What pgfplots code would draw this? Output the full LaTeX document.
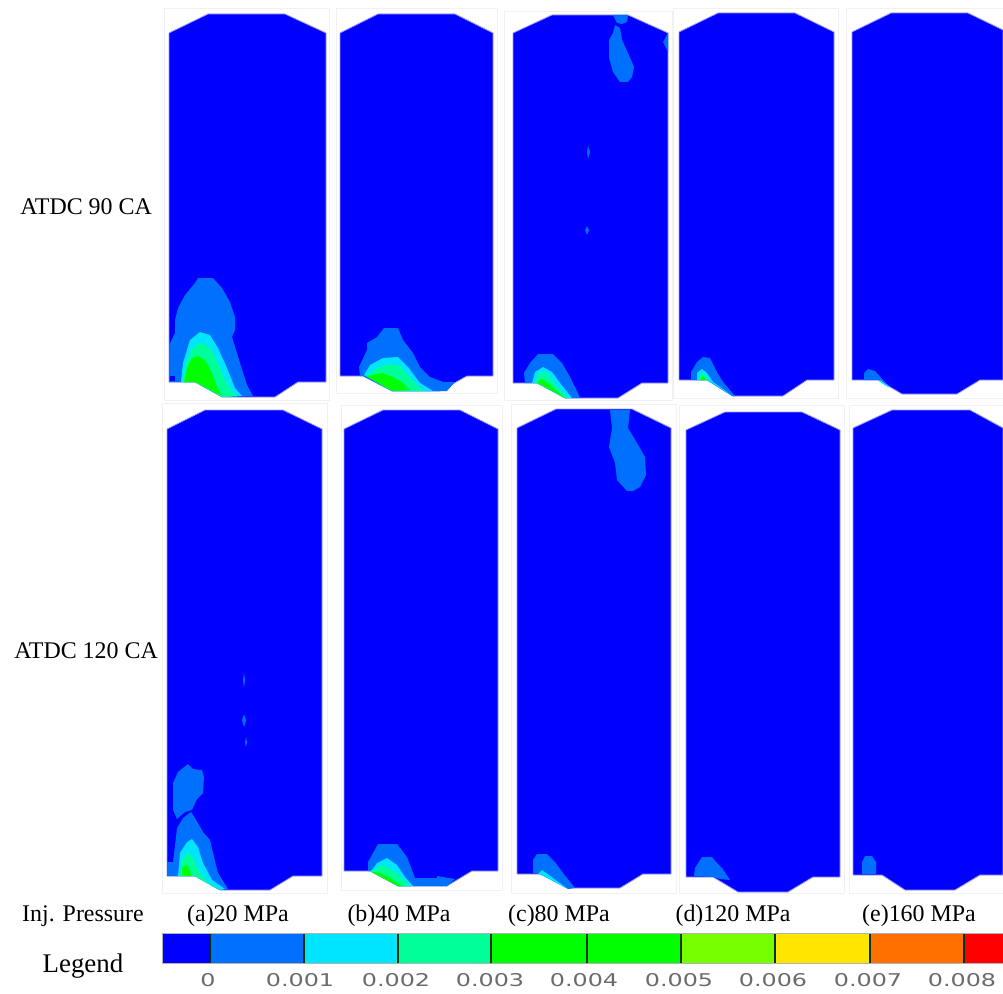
\documentclass[border=0pt]{standalone}
\usepackage{fontspec}
\setmainfont{Liberation Serif}
\newfontfamily\barfont{DejaVu Sans}
\usepackage{pgfplots}
\pgfplotsset{compat=1.18}
\definecolor{cA}{HTML}{0000FF}
\definecolor{cB}{HTML}{0070FF}
\definecolor{cC}{HTML}{00E5FF}
\definecolor{cD}{HTML}{00FF99}
\definecolor{cE}{HTML}{00FF00}
\definecolor{cF}{HTML}{77FF00}
\definecolor{cG}{HTML}{FFE500}
\definecolor{cH}{HTML}{FF7000}
\definecolor{cI}{HTML}{FF0000}
\definecolor{frame}{HTML}{F1F1F1}
\definecolor{rim}{HTML}{9A9AFF}
\tikzset{
 pan/.style={fill=cA,draw=rim,line width=0.8pt,line join=round},
 fr/.style={fill=white,draw=frame,line width=0.8pt},
 a/.style={fill=cA,draw=none},
 b/.style={fill=cB,draw=none},
 c/.style={fill=cC,draw=none},
 d/.style={fill=cD,draw=none},
 e/.style={fill=cE,draw=none},
 txt/.style={font=\fontsize{24}{28}\selectfont,inner sep=0pt,text=black},
 big/.style={font=\fontsize{27}{30}\selectfont,inner sep=0pt,text=black},
 tk/.style={font=\barfont\fontsize{18}{20}\selectfont,inner sep=0pt,text=black!58,xscale=1.33,yscale=0.98}
}
\begin{document}
\begin{tikzpicture}
\path[use as bounding box] (0,0) rectangle (1003bp,994bp);
\begin{axis}[scale only axis,width=1003bp,height=994bp,xmin=0,xmax=1003,ymin=0,ymax=994,y dir=reverse,axis lines=none,clip=true]
% frames
\addplot[fr] coordinates {(164,8)(329,8)(329,400)(164,400)(164,8)};
\addplot[fr] coordinates {(336,8)(497,8)(497,393)(336,393)(336,8)};
\addplot[fr] coordinates {(504,11)(672,11)(672,400)(504,400)(504,11)};
\addplot[fr] coordinates {(673,8)(838,8)(838,398)(673,398)(673,8)};
\addplot[fr] coordinates {(846,8)(1003,8)(1003,398)(846,398)(846,8)};
\addplot[fr] coordinates {(162,403)(327,403)(327,893)(162,893)(162,403)};
\addplot[fr] coordinates {(341,405)(502,405)(502,890)(341,890)(341,405)};
\addplot[fr] coordinates {(511,404)(676,404)(676,893)(511,893)(511,404)};
\addplot[fr] coordinates {(679,405)(844,405)(844,893)(679,893)(679,405)};
\addplot[fr] coordinates {(849,405)(1003,405)(1003,893)(849,893)(849,405)};
% panels row 1
\addplot[pan] coordinates {(169,33)(208,14)(285,14)(326,33)(326,382)(298,382)(275,397)(222,397)(195,382)(169,382)(169,33)};
\addplot[pan] coordinates {(340,33)(378,14)(455,14)(493,33)(493,376)(467,376)(440,391)(392,391)(363,376)(340,376)(340,33)};
\addplot[pan] coordinates {(513,33)(552,15)(628,15)(668,33)(668,383)(642,383)(618,398)(565,398)(537,383)(513,383)(513,33)};
\addplot[pan] coordinates {(679,32)(718,13)(795,13)(834,32)(834,380)(807,380)(783,396)(733,396)(707,380)(679,380)(679,32)};
\addplot[pan] coordinates {(852,32)(891,13)(968,13)(1003,30)(1003,380)(980,380)(957,394)(902,394)(878,380)(852,380)(852,32)};
% panels row 2
\addplot[pan] coordinates {(167,429)(205,410)(283,410)(322,429)(322,876)(293,876)(270,890)(220,890)(195,876)(167,876)(167,429)};
\addplot[pan] coordinates {(344,429)(383,410)(460,410)(498,429)(498,871)(472,871)(447,886)(398,886)(370,871)(344,871)(344,429)};
\addplot[pan] coordinates {(517,428)(556,409)(632,409)(671,428)(671,874)(643,874)(620,888)(570,888)(540,874)(517,874)(517,428)};
\addplot[pan] coordinates {(686,430)(725,412)(802,412)(840,430)(840,877)(813,877)(788,892)(738,892)(713,877)(686,877)(686,430)};
\addplot[pan] coordinates {(853,428)(892,410)(970,410)(1003,428)(1003,875)(980,875)(955,890)(905,890)(882,875)(853,875)(853,428)};
% a1
\addplot[b] coordinates {(169,382)(169,345)(175,333)(175,320)(178,308)(185,295)(195,283)(198,278)(213,278)(222,288)(230,302)(235,317)(235,330)(232,337)(236,350)(240,363)(247,385)(253,396)(222,397)(195,382)};
\addplot[a] coordinates {(170,376)(175,376)(175,381)(170,381)};
\addplot[c] coordinates {(181,382)(183,363)(190,340)(200,332)(210,335)(218,348)(227,368)(235,388)(242,396)(222,397)(195,382)};
\addplot[d] coordinates {(183,382)(187,362)(193,347)(202,343)(210,348)(218,363)(225,380)(232,392)(238,396)(222,397)(195,382)};
\addplot[e] coordinates {(184,382)(187,367)(192,358)(198,356)(205,360)(212,373)(217,387)(222,396)(195,382)};
% b1
\addplot[b] coordinates {(360,376)(359,367)(367,350)(367,343)(377,337)(384,328)(398,328)(403,340)(413,353)(420,367)(430,377)(443,382)(455,382)(447,391)(392,391)(363,376)};
\addplot[c] coordinates {(364,375)(370,365)(383,358)(398,357)(408,367)(420,383)(433,391)(392,391)(366,376)};
\addplot[d] coordinates {(368,375)(377,368)(390,364)(400,366)(410,378)(423,391)(392,391)(366,376)};
\addplot[e] coordinates {(372,375)(382,373)(393,377)(403,383)(410,390)(392,391)(366,376)};
% c1
\addplot[b] coordinates {(613,15)(628,15)(627,22)(622,24)(617,23)};
\addplot[b] coordinates {(615,25)(620,28)(622,40)(628,53)(634,67)(632,77)(628,82)(620,82)(613,72)(609,58)(609,40)(613,33)};
\addplot[b] coordinates {(668,33)(663,42)(668,52)};
\addplot[b] coordinates {(588,146)(590,152)(588,159)(587,152)};
\addplot[b] coordinates {(587,226)(589,230)(587,235)(585,230)};
\addplot[b] coordinates {(525,383)(524,373)(530,363)(538,354)(553,354)(562,363)(570,377)(578,393)(580,398)(565,398)(537,383)};
\addplot[c] coordinates {(532,383)(535,372)(543,367)(552,372)(560,383)(572,398)(565,398)(537,383)};
\addplot[d] coordinates {(535,382)(540,373)(545,372)(550,377)(557,387)(568,398)(565,398)(537,383)};
\addplot[e] coordinates {(537,382)(542,379)(550,385)(565,398)(540,384)};
% d1
\addplot[b] coordinates {(691,380)(691,372)(697,362)(703,357)(710,358)(717,372)(723,382)(735,396)(732,396)(707,380)};
\addplot[c] coordinates {(697,380)(697,373)(702,369)(707,373)(713,382)(733,396)(707,380)};
\addplot[d] coordinates {(698,380)(702,373)(705,375)(708,380)};
\addplot[e] coordinates {(700,380)(703,376)(706,380)};
% e1
\addplot[b] coordinates {(864,380)(864,373)(868,369)(875,371)(883,380)(890,387)(885,385)(878,380)};
\addplot[c] coordinates {(878,380)(880,380)(890,387)(888,387)};
% a2
\addplot[b] coordinates {(173,783)(178,772)(183,768)(188,764)(193,769)(202,770)(204,777)(203,793)(197,799)(192,810)(185,812)(177,819)(173,810)(173,797)};
\addplot[b] coordinates {(167,876)(167,862)(173,862)(176,837)(177,828)(183,818)(191,812)(195,818)(203,832)(210,840)(214,857)(218,873)(228,889)(220,890)(195,876)};
\addplot[c] coordinates {(178,876)(180,853)(187,842)(192,839)(198,847)(203,863)(212,880)(225,889)(220,890)(195,876)};
\addplot[d] coordinates {(180,876)(182,860)(188,853)(193,857)(198,870)(207,882)(217,889)(195,876)};
\addplot[e] coordinates {(182,875)(182,867)(187,865)(190,870)(191,876)};
\addplot[b] coordinates {(244,672)(245,680)(244,688)(243,680)};
\addplot[b] coordinates {(244,714)(246,720)(244,727)(242,720)};
\addplot[b] coordinates {(246,737)(247,742)(246,747)(245,742)};
% b2
\addplot[b] coordinates {(368,871)(368,862)(378,844)(397,844)(407,857)(415,878)(437,878)(437,876)(443,877)(455,879)(447,886)(398,886)(370,871)};
\addplot[c] coordinates {(372,870)(377,863)(387,858)(397,865)(405,877)(413,886)(398,886)(370,871)};
\addplot[d] coordinates {(373,870)(383,865)(393,870)(402,878)(410,886)(398,886)(370,871)};
\addplot[e] coordinates {(377,872)(387,876)(393,880)(402,886)(398,886)(372,872)};
% c2
\addplot[b] coordinates {(610,410)(630,410)(628,428)(637,443)(645,457)(646,475)(640,487)(633,491)(627,491)(617,480)(615,463)(609,447)(612,428)};
\addplot[b] coordinates {(533,873)(533,860)(537,854)(547,854)(555,862)(563,873)(575,888)(568,889)(540,874)};
\addplot[c] coordinates {(538,874)(542,870)(553,878)(568,889)(540,874)};
% d2
\addplot[b] coordinates {(694,876)(695,868)(702,857)(712,857)(717,863)(722,868)(730,880)(720,879)(713,877)};
% e2
\addplot[b] coordinates {(862,874)(862,862)(865,856)(872,856)(876,862)(876,874)};
% colour bar
\addplot[fill=cA,draw=none] coordinates {(162,934)(210,934)(210,963)(162,963)};
\addplot[fill=cB,draw=none] coordinates {(210,934)(304,934)(304,963)(210,963)};
\addplot[fill=cC,draw=none] coordinates {(304,934)(398,934)(398,963)(304,963)};
\addplot[fill=cD,draw=none] coordinates {(398,934)(491,934)(491,963)(398,963)};
\addplot[fill=cE,draw=none] coordinates {(491,934)(681,934)(681,963)(491,963)};
\addplot[fill=cF,draw=none] coordinates {(681,934)(775,934)(775,963)(681,963)};
\addplot[fill=cG,draw=none] coordinates {(775,934)(870,934)(870,963)(775,963)};
\addplot[fill=cH,draw=none] coordinates {(870,934)(964,934)(964,963)(870,963)};
\addplot[fill=cI,draw=none] coordinates {(964,934)(1003,934)(1003,963)(964,963)};
\addplot[draw=black!80!cE,line width=1.4pt] coordinates {(210,934)(210,963)};
\addplot[draw=black!80!cE,line width=1.4pt] coordinates {(304,934)(304,963)};
\addplot[draw=black!80!cE,line width=1.4pt] coordinates {(398,934)(398,963)};
\addplot[draw=black!80!cE,line width=1.4pt] coordinates {(491,934)(491,963)};
\addplot[draw=black!80!cE,line width=1.4pt] coordinates {(587,934)(587,963)};
\addplot[draw=black!80!cE,line width=1.4pt] coordinates {(681,934)(681,963)};
\addplot[draw=black!80!cE,line width=1.4pt] coordinates {(775,934)(775,963)};
\addplot[draw=black!80!cE,line width=1.4pt] coordinates {(870,934)(870,963)};
\addplot[draw=black!80!cE,line width=1.4pt] coordinates {(964,934)(964,963)};
\addplot[draw=black!30,line width=1pt] coordinates {(1003,933.5)(162,933.5)(162,963.5)(1003,963.5)};
% text
\node[txt,anchor=east] at (axis cs:152,207) {ATDC 90 CA};
\node[txt,anchor=east] at (axis cs:158,651) {ATDC 120 CA};
\node[txt,anchor=base] at (axis cs:83,921) {Inj. Pressure};
\node[txt,anchor=base] at (axis cs:238,921) {(a)20 MPa};
\node[txt,anchor=base] at (axis cs:399,921) {(b)40 MPa};
\node[txt,anchor=base] at (axis cs:559,921) {(c)80 MPa};
\node[txt,anchor=base] at (axis cs:733,921) {(d)120 MPa};
\node[txt,anchor=base] at (axis cs:919,921) {(e)160 MPa};
\node[big,anchor=base] at (axis cs:83,972) {Legend};
\node[tk,anchor=base] at (axis cs:208,986) {0};
\node[tk,anchor=base] at (axis cs:300,986) {0.001};
\node[tk,anchor=base] at (axis cs:396,986) {0.002};
\node[tk,anchor=base] at (axis cs:490,986) {0.003};
\node[tk,anchor=base] at (axis cs:584,986) {0.004};
\node[tk,anchor=base] at (axis cs:679,986) {0.005};
\node[tk,anchor=base] at (axis cs:773,986) {0.006};
\node[tk,anchor=base] at (axis cs:868,986) {0.007};
\node[tk,anchor=base] at (axis cs:962,986) {0.008};
\end{axis}
\end{tikzpicture}
\end{document}
